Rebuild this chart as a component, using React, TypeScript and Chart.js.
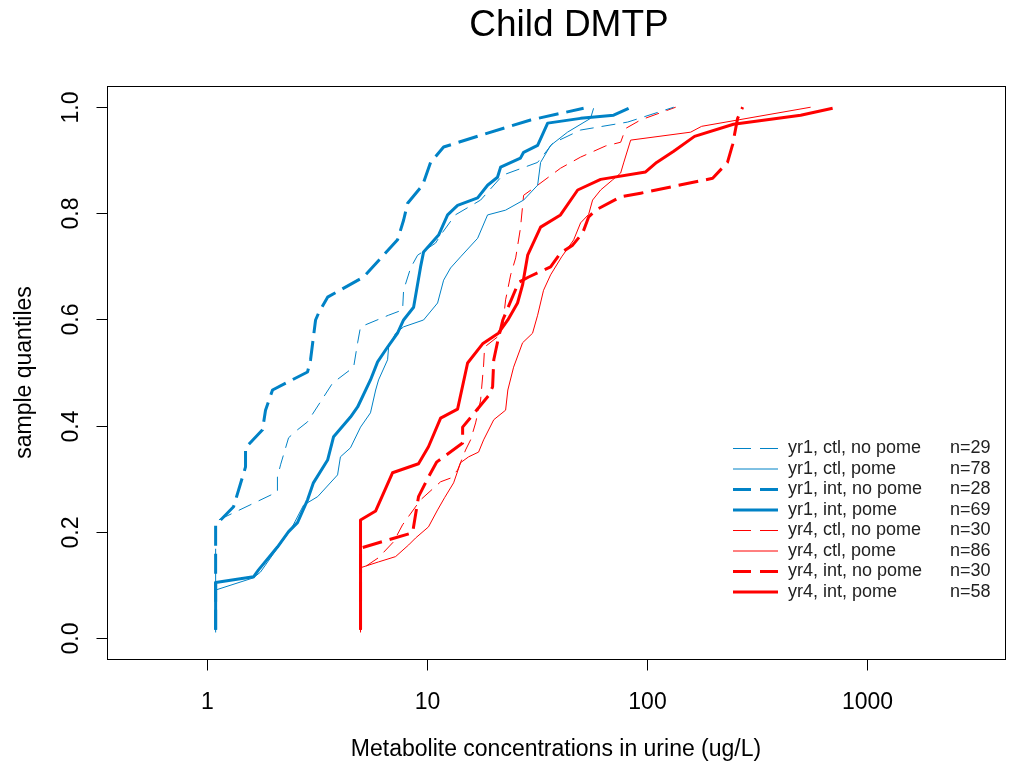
import React, { useEffect, useRef } from "react";
import { Chart, registerables } from "chart.js";

Chart.register(...registerables);

// yr1, ctl, no pome (n=29)
const yr1CtlNoPomeX = [1.1, 1.1, 1.134, 2.1, 2.1, 2.17, 2.36, 2.59, 2.878, 3.74, 4.66, 4.86, 5.01, 6.72, 7.78, 7.86, 8.46, 9.1, 10.99, 11.58, 13.5, 17.6, 22.2, 31.96, 37.4, 50.1, 82, 132.7];
const yr1CtlNoPomeP = [0.017, 0.213, 0.222, 0.275, 0.303, 0.326, 0.377, 0.392, 0.407, 0.48, 0.51, 0.556, 0.586, 0.608, 0.618, 0.655, 0.697, 0.721, 0.744, 0.759, 0.797, 0.825, 0.872, 0.896, 0.932, 0.957, 0.972, 1.0];

// yr1, ctl, pome (n=78)
const yr1CtlPomeX = [1.1, 1.1, 1.635, 1.76, 2.1, 2.41, 2.76, 3.2, 3.94, 4.06, 4.51, 5.01, 5.56, 5.87, 6.05, 6.65, 6.72, 7.23, 7.86, 9.69, 11.22, 11.95, 12.85, 14.27, 17.06, 18.93, 22.86, 27.6, 31.96, 32.97, 36.6, 43.7, 55.6, 57.4];
const yr1CtlPomeP = [0.01, 0.09, 0.113, 0.124, 0.169, 0.203, 0.25, 0.266, 0.307, 0.341, 0.358, 0.397, 0.424, 0.467, 0.486, 0.524, 0.548, 0.574, 0.586, 0.599, 0.631, 0.674, 0.697, 0.718, 0.753, 0.797, 0.806, 0.825, 0.853, 0.896, 0.928, 0.953, 0.979, 0.998];

// yr1, int, no pome (n=28)
const yr1IntNoPomeX = [1.1, 1.1, 1.134, 1.327, 1.504, 1.504, 1.797, 1.854, 1.995, 2.878, 2.97, 3.13, 3.23, 3.55, 5.17, 7.38, 7.86, 8.2, 9.59, 10.43, 11.95, 17.6, 29.7, 51.7];
const yr1IntNoPomeP = [0.015, 0.213, 0.218, 0.247, 0.322, 0.358, 0.392, 0.429, 0.467, 0.501, 0.524, 0.599, 0.612, 0.642, 0.68, 0.75, 0.787, 0.819, 0.853, 0.896, 0.925, 0.947, 0.976, 0.998];

// yr1, int, pome (n=69)
const yr1IntPomeX = [1.1, 1.1, 1.635, 1.723, 2.1, 2.36, 2.59, 2.878, 3.06, 3.55, 3.78, 4.51, 4.86, 5.56, 5.99, 6.65, 7.38, 7.86, 8.73, 9.39, 9.69, 11.34, 12.46, 13.83, 17.06, 18.93, 21.0, 21.7, 26.7, 27.6, 31.96, 35.5, 50.1, 70.8, 82.8];
const yr1IntPomeP = [0.015, 0.104, 0.115, 0.128, 0.171, 0.2, 0.217, 0.26, 0.292, 0.335, 0.379, 0.416, 0.435, 0.486, 0.52, 0.548, 0.574, 0.599, 0.623, 0.699, 0.727, 0.759, 0.797, 0.815, 0.829, 0.853, 0.868, 0.887, 0.904, 0.915, 0.928, 0.97, 0.979, 0.985, 0.998];

// yr4, ctl, no pome (n=30)
const yr4CtlNoPomeX = [5.01, 5.01, 6.05, 7.08, 7.78, 9.39, 11.58, 12.85, 13.83, 15.04, 15.85, 16.7, 17.6, 18.16, 18.35, 21.0, 22.2, 22.86, 24.1, 25.4, 26.7, 27.6, 31.96, 40.6, 50.1, 65.1, 76.2, 80.3, 93.9, 135.5];
const yr4CtlNoPomeP = [0.017, 0.128, 0.151, 0.181, 0.213, 0.26, 0.294, 0.301, 0.316, 0.354, 0.373, 0.405, 0.448, 0.514, 0.548, 0.567, 0.589, 0.637, 0.684, 0.716, 0.772, 0.834, 0.853, 0.885, 0.906, 0.927, 0.934, 0.96, 0.976, 1.0];

// yr4, ctl, pome (n=86)
const yr4CtlPomeX = [5.01, 5.01, 6.05, 7.23, 8.29, 8.91, 10.2, 11.22, 12.07, 13.27, 14.27, 15.52, 17.23, 18.16, 20.2, 22.86, 23.4, 24.85, 27.3, 30.3, 31.96, 34.0, 36.6, 41.1, 46.6, 50.1, 54.5, 56.8, 61.8, 70.0, 76.2, 78.6, 84.6, 158.5, 177.8, 556];
const yr4CtlPomeP = [0.01, 0.132, 0.143, 0.153, 0.175, 0.188, 0.209, 0.241, 0.264, 0.292, 0.33, 0.341, 0.35, 0.373, 0.411, 0.429, 0.467, 0.51, 0.556, 0.574, 0.608, 0.655, 0.684, 0.718, 0.75, 0.782, 0.798, 0.825, 0.844, 0.863, 0.876, 0.895, 0.938, 0.953, 0.964, 1.0];

// yr4, int, no pome (n=30)
const yr4IntNoPomeX = [5.01, 5.01, 8.64, 9.19, 10.2, 11.1, 14.58, 14.58, 19.1, 19.95, 20.2, 21.0, 22.2, 26.2, 29.1, 36.6, 40.6, 46.1, 51.2, 54.5, 58.6, 76.2, 93.9, 199.5, 233, 246, 259, 273];
const yr4IntNoPomeP = [0.015, 0.169, 0.198, 0.266, 0.303, 0.331, 0.367, 0.397, 0.456, 0.473, 0.524, 0.557, 0.599, 0.67, 0.68, 0.699, 0.725, 0.74, 0.763, 0.793, 0.806, 0.831, 0.838, 0.866, 0.896, 0.93, 0.979, 1.0];

// yr4, int, pome (n=58)
const yr4IntPomeX = [5.01, 5.01, 5.87, 7.0, 9.19, 10.2, 11.58, 13.83, 15.36, 17.97, 21.2, 23.4, 25.9, 27.3, 28.8, 32.97, 40.6, 48.6, 61.8, 98.9, 111, 132.7, 165, 248, 501, 700];
const yr4IntPomeP = [0.015, 0.222, 0.239, 0.311, 0.328, 0.36, 0.414, 0.431, 0.518, 0.554, 0.574, 0.599, 0.631, 0.665, 0.721, 0.774, 0.797, 0.844, 0.864, 0.878, 0.896, 0.917, 0.945, 0.968, 0.985, 0.998];

const seriesLabels = ["yr1, ctl, no pome", "yr1, ctl, pome", "yr1, int, no pome", "yr1, int, pome", "yr4, ctl, no pome", "yr4, ctl, pome", "yr4, int, no pome", "yr4, int, pome"];
const seriesCounts = ["n=29", "n=78", "n=28", "n=69", "n=30", "n=86", "n=30", "n=58"];
const xTickValues = [1, 10, 100, 1000];
const xTickLabels = ["1", "10", "100", "1000"];
const yTickValues = [0, 0.2, 0.4, 0.6, 0.8, 1.0];
const yTickLabels = ["0.0", "0.2", "0.4", "0.6", "0.8", "1.0"];

const BLUE = "rgb(0,130,198)";
const RED = "rgb(255,0,0)";
const FONT = "'Liberation Sans', Arial, Helvetica, sans-serif";
const THIN = 1;
const THICK = 3;
const THIN_DASH = [14, 8];
const THICK_DASH = [20, 8];

const seriesX = [yr1CtlNoPomeX, yr1CtlPomeX, yr1IntNoPomeX, yr1IntPomeX, yr4CtlNoPomeX, yr4CtlPomeX, yr4IntNoPomeX, yr4IntPomeX];
const seriesP = [yr1CtlNoPomeP, yr1CtlPomeP, yr1IntNoPomeP, yr1IntPomeP, yr4CtlNoPomeP, yr4CtlPomeP, yr4IntNoPomeP, yr4IntPomeP];
const seriesStyle = [
  { color: BLUE, width: THIN, dash: THIN_DASH },
  { color: BLUE, width: THIN, dash: [] as number[] },
  { color: BLUE, width: THICK, dash: THICK_DASH },
  { color: BLUE, width: THICK, dash: [] as number[] },
  { color: RED, width: THIN, dash: THIN_DASH },
  { color: RED, width: THIN, dash: [] as number[] },
  { color: RED, width: THICK, dash: THICK_DASH },
  { color: RED, width: THICK, dash: [] as number[] },
];

const rPlotPlugin = {
  id: "rPlot",
  afterDraw(chart: any) {
    const ctx = chart.ctx as CanvasRenderingContext2D;
    const { left, top, right, bottom } = chart.chartArea;
    const xs = chart.scales.x;
    const ys = chart.scales.y;
    ctx.save();
    ctx.strokeStyle = "#000";
    ctx.fillStyle = "#000";
    ctx.lineWidth = 1;
    ctx.setLineDash([]);
    // box
    ctx.strokeRect(Math.round(left) + 0.5, Math.round(top) + 0.5, Math.round(right - left), Math.round(bottom - top));
    // x axis
    const bx = Math.round(bottom) + 0.5;
    ctx.beginPath();
    ctx.moveTo(xs.getPixelForValue(xTickValues[0]), bx);
    ctx.lineTo(xs.getPixelForValue(xTickValues[xTickValues.length - 1]), bx);
    ctx.stroke();
    ctx.font = `23px ${FONT}`;
    ctx.textAlign = "center";
    ctx.textBaseline = "middle";
    xTickValues.forEach((v, i) => {
      const px = Math.round(xs.getPixelForValue(v)) + 0.5;
      ctx.beginPath();
      ctx.moveTo(px, bx);
      ctx.lineTo(px, bx + 11);
      ctx.stroke();
      ctx.fillText(xTickLabels[i], px, bottom + 44);
    });
    // y axis
    const lx = Math.round(left) + 0.5;
    ctx.beginPath();
    ctx.moveTo(lx, ys.getPixelForValue(yTickValues[0]));
    ctx.lineTo(lx, ys.getPixelForValue(yTickValues[yTickValues.length - 1]));
    ctx.stroke();
    yTickValues.forEach((v, i) => {
      const py = Math.round(ys.getPixelForValue(v)) + 0.5;
      ctx.beginPath();
      ctx.moveTo(lx - 11, py);
      ctx.lineTo(lx, py);
      ctx.stroke();
      ctx.save();
      ctx.translate(left - 35, py);
      ctx.rotate(-Math.PI / 2);
      ctx.fillText(yTickLabels[i], 0, 0);
      ctx.restore();
    });
    // titles
    const cx = (left + right) / 2;
    ctx.font = `23px ${FONT}`;
    ctx.fillText("Metabolite concentrations in urine (ug/L)", cx, 750);
    ctx.save();
    ctx.translate(25, (top + bottom) / 2);
    ctx.rotate(-Math.PI / 2);
    ctx.fillText("sample quantiles", 0, 0);
    ctx.restore();
    ctx.font = `37px ${FONT}`;
    ctx.fillText("Child DMTP", 569, 26);
    // legend
    ctx.font = `18px ${FONT}`;
    ctx.textAlign = "left";
    seriesLabels.forEach((lab, i) => {
      const yy = 448.5 + i * 20.5;
      const st = seriesStyle[i];
      ctx.save();
      ctx.strokeStyle = st.color;
      ctx.lineWidth = st.width;
      ctx.setLineDash(st.dash.length ? [18, 9] : []);
      ctx.beginPath();
      ctx.moveTo(733, yy);
      ctx.lineTo(778, yy);
      ctx.stroke();
      ctx.restore();
      ctx.fillStyle = "#222";
      ctx.fillText(lab, 788, yy);
      ctx.fillText(seriesCounts[i], 950, yy);
    });
    ctx.restore();
  },
};

export default function App() {
  const canvasRef = useRef<HTMLCanvasElement | null>(null);
  useEffect(() => {
    const canvas = canvasRef.current;
    if (!canvas) return;
    const datasets = seriesLabels.map((lab, i) => ({
      label: lab,
      data: seriesX[i].map((xv, j) => ({ x: xv, y: seriesP[i][j] })),
      borderColor: seriesStyle[i].color,
      backgroundColor: seriesStyle[i].color,
      borderWidth: seriesStyle[i].width,
      borderDash: seriesStyle[i].dash,
      borderCapStyle: "butt" as const,
      borderJoinStyle: "round" as const,
      pointRadius: 0,
      tension: 0,
      fill: false,
    }));
    const chart = new Chart(canvas, {
      type: "line",
      data: { datasets },
      options: {
        animation: false,
        responsive: false,
        devicePixelRatio: 1,
        layout: { padding: { left: 107, top: 86, right: 14, bottom: 106 } },
        plugins: { legend: { display: false }, tooltip: { enabled: false }, title: { display: false } },
        scales: {
          x: { type: "logarithmic", display: false, min: 0.353, max: 4250 },
          y: { type: "linear", display: false, min: -0.04, max: 1.04 },
        },
      },
      plugins: [rPlotPlugin],
    });
    return () => chart.destroy();
  }, []);
  return (
    <div style={{ position: "absolute", left: 0, top: 0, width: 1019, height: 765, background: "#fff" }}>
      <canvas ref={canvasRef} width={1019} height={765} style={{ display: "block" }} />
    </div>
  );
}
